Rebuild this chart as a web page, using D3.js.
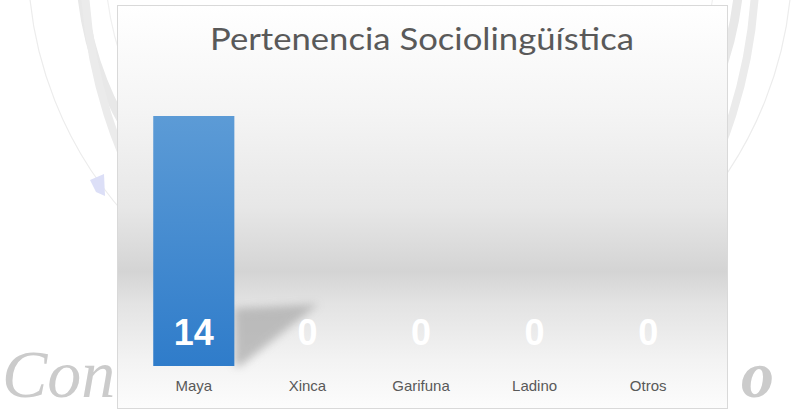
<!DOCTYPE html>
<html>
<head>
<meta charset="utf-8">
<script src="https://cdn.jsdelivr.net/npm/d3@7"></script>
<style>
  body { margin: 0; background: #fff; }
  svg { display: block; }
</style>
</head>
<body>
<script>
var categories = ["Maya", "Xinca", "Garifuna", "Ladino", "Otros"];
var values = [14, 0, 0, 0, 0];
var chartTitle = "Pertenencia Sociolingüística";

var width = 791,
  height = 411;

var svg = d3.select("body").append("svg")
  .attr("width", width)
  .attr("height", height);

var defs = svg.append("defs");

// plot background: white -> grey band -> white
var bg = defs.append("linearGradient").attr("id", "bg")
  .attr("x1", 0).attr("y1", 0).attr("x2", 0).attr("y2", 1);
[[0, "#ffffff"], [0.25, "#f5f5f5"], [0.5, "#e7e7e7"], [0.66, "#d4d4d4"],
 [0.74, "#e3e3e3"], [0.88, "#f3f3f3"], [1, "#fcfcfc"]].forEach(function (s) {
  bg.append("stop").attr("offset", s[0]).attr("stop-color", s[1]);
});

var barGrad = defs.append("linearGradient").attr("id", "bar")
  .attr("x1", 0).attr("y1", 0).attr("x2", 0).attr("y2", 1);
barGrad.append("stop").attr("offset", 0).attr("stop-color", "#5c9bd6");
barGrad.append("stop").attr("offset", 1).attr("stop-color", "#2f7cca");

defs.append("filter").attr("id", "blur")
  .attr("x", "-50%").attr("y", "-50%").attr("width", "200%").attr("height", "200%")
  .append("feGaussianBlur").attr("stdDeviation", 4);

// watermark behind the chart
var wm = svg.append("g");
wm.append("circle").attr("cx", 410).attr("cy", -40).attr("r", 382)
  .attr("fill", "none").attr("stroke", "#ececec").attr("stroke-width", 1.2);
wm.append("circle").attr("cx", 410).attr("cy", -40).attr("r", 330)
  .attr("fill", "none").attr("stroke", "#e8e8e8").attr("stroke-width", 9);
wm.append("circle").attr("cx", 410).attr("cy", -40).attr("r", 305)
  .attr("fill", "none").attr("stroke", "#f0f0f0").attr("stroke-width", 1.2);
wm.append("ellipse").attr("cx", 420).attr("cy", -40).attr("rx", 336).attr("ry", 420)
  .attr("fill", "none").attr("stroke", "#ebebeb").attr("stroke-width", 8);
wm.append("path").attr("d", "M90,180 L104,174 L105,196 L96,192 Z")
  .attr("fill", "#dcdff7");
wm.append("text").attr("x", 2).attr("y", 397)
  .attr("font-family", "Liberation Serif, serif")
  .attr("font-style", "italic")
  .attr("font-size", 68).attr("fill", "#cbcbcb").text("Con");
wm.append("text").attr("x", 741).attr("y", 397)
  .attr("font-family", "Liberation Serif, serif")
  .attr("font-style", "italic").attr("font-weight", "bold")
  .attr("font-size", 66).attr("fill", "#cbcbcb").text("o");

// chart frame
svg.append("rect")
  .attr("x", 117.5).attr("y", 5.5)
  .attr("width", 610).attr("height", 403)
  .attr("fill", "url(#bg)")
  .attr("stroke", "#d9d9d9");

svg.append("text")
  .attr("x", 422).attr("y", 50)
  .attr("text-anchor", "middle")
  .attr("font-family", "Lato, Liberation Sans, sans-serif")
  .attr("font-size", 31)
  .attr("fill", "#595959")
  .attr("textLength", 424).attr("lengthAdjust", "spacingAndGlyphs")
  .text(chartTitle);

var x = d3.scaleBand().domain(categories).range([137, 705]);
var y = d3.scaleLinear().domain([0, 14]).range([366, 116]);
var barW = x.bandwidth() * 0.714;
var barX = function (d) { return x(d) + (x.bandwidth() - barW) / 2; };

// perspective shadow of the bars
svg.append("g").selectAll("path")
  .data(categories.filter(function (c, i) { return values[i] > 0; }))
  .enter().append("path")
  .attr("d", function (c) {
    var r = barX(c) + barW, b = y(0);
    return "M" + r + "," + b + " L" + r + "," + (b - 58) +
      " L" + (r + 84) + "," + (b - 62) + " L" + (r + 6) + "," + b + " Z";
  })
  .attr("fill", "#a8a8a8")
  .attr("opacity", 0.7)
  .attr("filter", "url(#blur)");

svg.append("g").selectAll("rect")
  .data(values)
  .enter().append("rect")
  .attr("x", function (d, i) { return barX(categories[i]); })
  .attr("y", function (d) { return y(d); })
  .attr("width", barW)
  .attr("height", function (d) { return y(0) - y(d); })
  .attr("fill", "url(#bar)");

// value labels at the base of each bar
svg.append("g").selectAll("text")
  .data(values)
  .enter().append("text")
  .attr("x", function (d, i) { return x(categories[i]) + x.bandwidth() / 2; })
  .attr("y", y(0) - 21)
  .attr("text-anchor", "middle")
  .attr("font-family", "Liberation Sans, Arial, sans-serif")
  .attr("font-weight", "bold")
  .attr("font-size", 36)
  .attr("fill", "#ffffff")
  .text(function (d) { return d; });

var xAxis = d3.axisBottom(x).tickSize(0).tickPadding(14);
var gx = svg.append("g")
  .attr("transform", "translate(0," + y(0) + ")")
  .call(xAxis);
gx.select(".domain").remove();
gx.selectAll("text")
  .attr("font-family", "Liberation Sans, Arial, sans-serif")
  .attr("font-size", 15)
  .attr("fill", "#595959");
</script>
</body>
</html>
